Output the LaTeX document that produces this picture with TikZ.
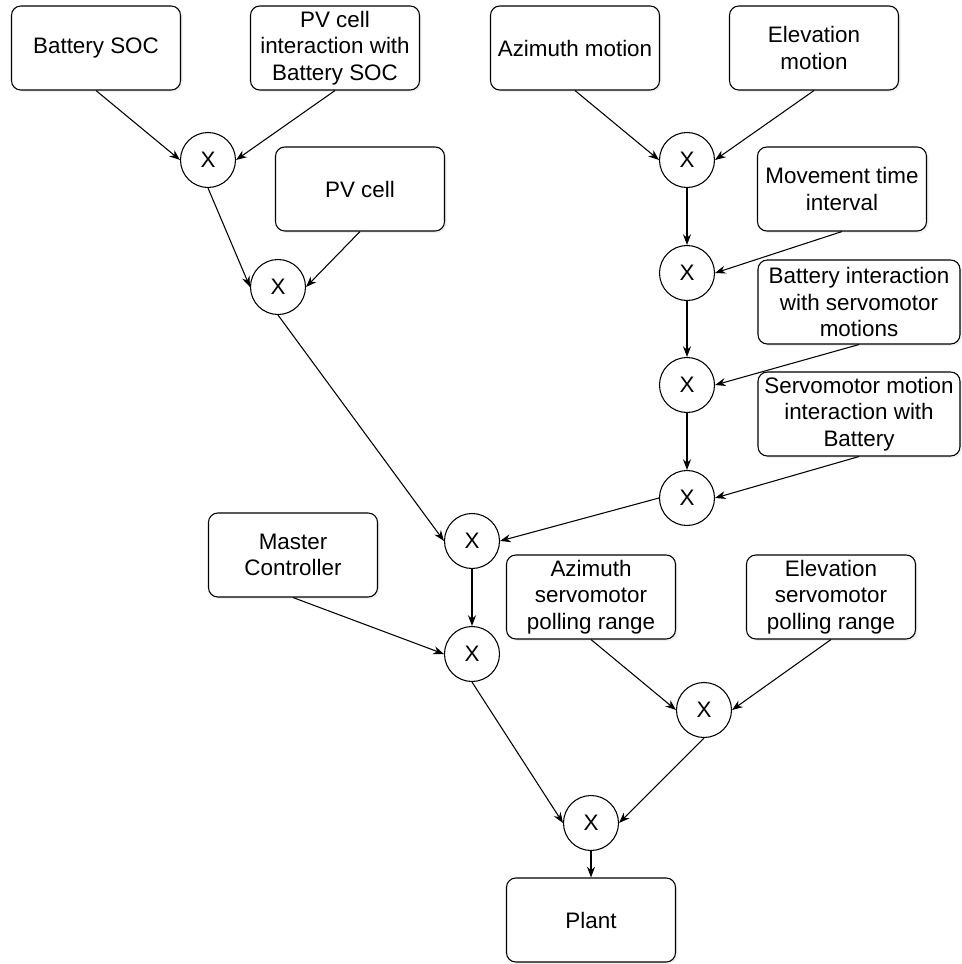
\documentclass[tikz,border=0pt]{standalone}
\usepackage{fontspec}
\setmainfont{Liberation Sans}
\usetikzlibrary{arrows.meta,shadows}

\begin{document}
\begin{tikzpicture}[x=0.75pt,y=-0.75pt,line width=0.8pt,
  every node/.style={font=\fontsize{16.8}{19.9}\selectfont},
  box/.style={draw,fill=white,rounded corners=7pt,align=center,inner sep=1pt,
    minimum width=126.75pt,minimum height=63pt,
    drop shadow={opacity=0.12,shadow xshift=1.5pt,shadow yshift=-1.5pt}},
  wide/.style={box,minimum width=151.5pt},
  mul/.style={circle,draw,fill=white,minimum size=41.25pt,inner sep=0pt},
  >={Stealth[length=8pt,width=6pt]}]
\useasboundingbox (0,0) rectangle (961,964);

% inputs
\node [box] (bs) at (96,48) {Battery SOC};
\node [box] (pvb) at (335,48) {PV cell\\interaction with\\Battery SOC};
\node [box] (pv) at (360,189) {PV cell};
\node [box] (az) at (575,48) {Azimuth motion};
\node [box] (el) at (814,48) {Elevation\\motion};
\node [box] (mt) at (842,189) {Movement time\\interval};
\node [wide] (bi) at (859,302) {Battery interaction\\with servomotor\\motions};
\node [wide] (sm) at (859,414) {Servomotor motion\\interaction with\\Battery};
\node [box] (mc) at (293,555) {Master\\Controller};
\node [box] (ap) at (591,597) {Azimuth\\servomotor\\polling range};
\node [box] (ep) at (831,597) {Elevation\\servomotor\\polling range};
\node [box] (pl) at (591,920) {Plant};

% products
\node [mul] (m1) at (208,160) {X};
\node [mul] (m2) at (278,287) {X};
\node [mul] (m3) at (687,160) {X};
\node [mul] (m4) at (687,273) {X};
\node [mul] (m5) at (687,385) {X};
\node [mul] (m6) at (687,498) {X};
\node [mul] (m7) at (472,541) {X};
\node [mul] (m8) at (472,654) {X};
\node [mul] (m9) at (704,710) {X};
\node [mul] (m10) at (591,823) {X};

\draw [->] (bs.south) -- (m1.west);
\draw [->] (pvb.south) -- (m1.east);
\draw [->] (m1.south) -- (m2.west);
\draw [->] (pv.south) -- (m2.east);
\draw [->] (az.south) -- (m3.west);
\draw [->] (el.south) -- (m3.east);
\draw [->] (m3) -- (m4);
\draw [->] (mt.south) -- (m4.east);
\draw [->] (m4) -- (m5);
\draw [->] (bi.south) -- (m5.east);
\draw [->] (m5) -- (m6);
\draw [->] (sm.south) -- (m6.east);
\draw [->] (m6.west) -- (m7.east);
\draw [->] (m2.south) -- (m7.west);
\draw [->] (m7) -- (m8);
\draw [->] (mc.south) -- (m8.west);
\draw [->] (ap.south) -- (m9.west);
\draw [->] (ep.south) -- (m9.east);
\draw [->] (m9.south) -- (m10.east);
\draw [->] (m8.south) -- (m10.west);
\draw [->] (m10) -- (pl);
\end{tikzpicture}
\end{document}
